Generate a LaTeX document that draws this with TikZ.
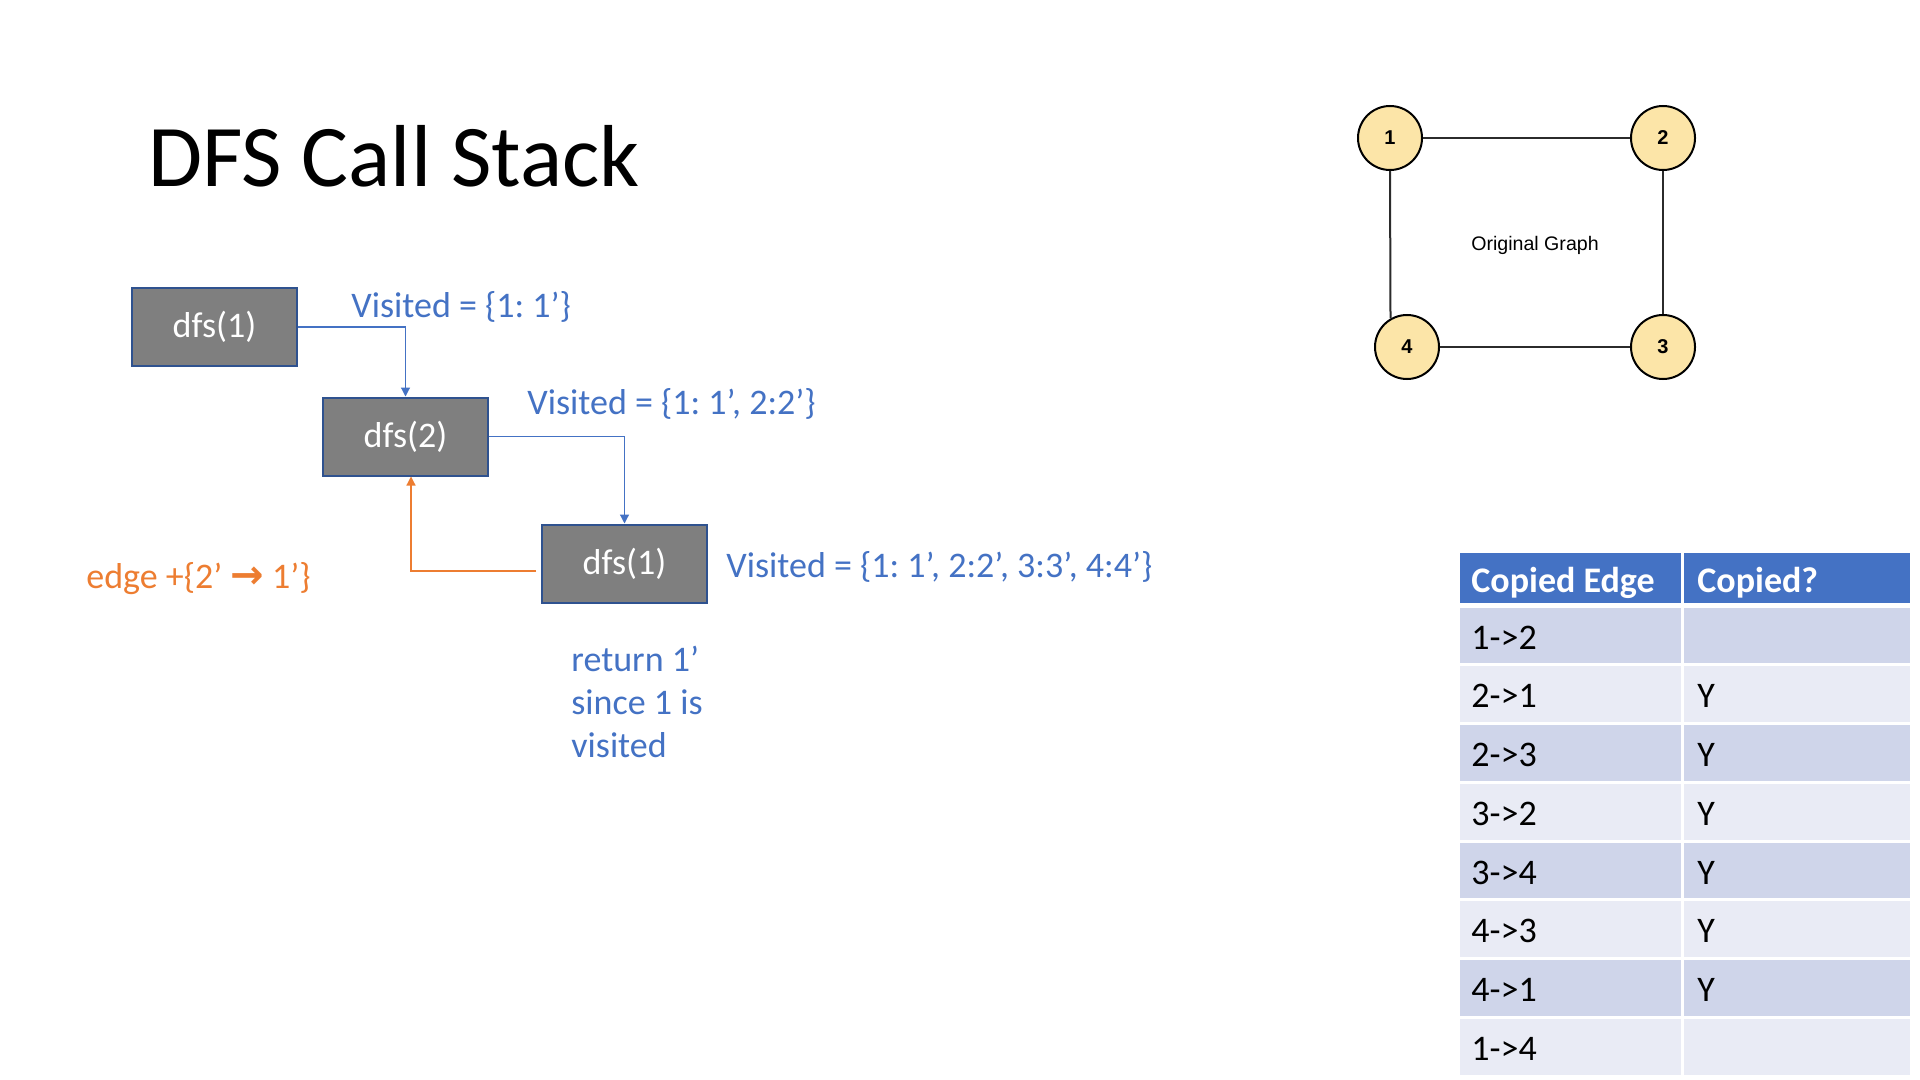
\documentclass[tikz,border=0pt]{standalone}
\usepackage{fontspec}
\setmainfont{Carlito}
\newfontfamily\graphfont{Liberation Sans}
\newfontfamily\symfont{DejaVu Sans}
\usetikzlibrary{arrows.meta,calc}
\frenchspacing
\definecolor{accblue}{HTML}{4472C4}
\definecolor{boxgray}{HTML}{7F7F7F}
\definecolor{boxline}{HTML}{2F528F}
\definecolor{accorange}{HTML}{ED7D31}
\definecolor{banddark}{HTML}{CFD5EA}
\definecolor{bandlight}{HTML}{E9EBF5}
\definecolor{vertfill}{HTML}{FCE5A8}
\definecolor{edgegray}{HTML}{2B2B2B}
\tikzset{
  callbox/.style={draw=boxline, line width=1pt, fill=boxgray, minimum width=82.5pt,
    minimum height=39pt, inner sep=0pt, text=white, font=\fontsize{18}{21.6}\selectfont},
  lbl/.style={anchor=base west, inner sep=0pt, font=\fontsize{18}{21.6}\selectfont},
  bluelbl/.style={lbl, text=accblue},
  headlbl/.style={lbl, text=white, font=\bfseries\fontsize{18}{21.6}\selectfont},
  celllbl/.style={lbl, text=black},
  callarrow/.style={draw=accblue, line width=0.6pt, -{Triangle[width=4.5pt,length=4.5pt]}},
  retarrow/.style={draw=accorange, line width=0.6pt, -{Triangle[width=4.5pt,length=4.5pt]}},
  vert/.style={circle, draw=black, line width=1pt, fill=vertfill, minimum size=32pt,
    inner sep=0pt, font=\graphfont\bfseries\fontsize{10}{12}\selectfont},
  gedge/.style={draw=edgegray, line width=1pt},
  headcell/.style={fill=accblue, draw=white, line width=1.5pt},
  darkcell/.style={fill=banddark, draw=white, line width=1.5pt},
  lightcell/.style={fill=bandlight, draw=white, line width=1.5pt}
}
\begin{document}
\begin{tikzpicture}[x=0.5pt, y=-0.5pt]
\fill[white] (0,0) rectangle (1920,1080);
\useasboundingbox (0,0) rectangle (1920,1080);

% title
\node[anchor=base west, inner sep=0pt, font=\fontsize{44}{52}\selectfont] (title) at (148,187) {DFS Call Stack};

% call stack boxes
\node[callbox] (b1) at (214.5,327) {dfs(1)};
\node[callbox] (b2) at (405.5,436.5) {dfs(2)};
\node[callbox] (b3) at (624.5,563.5) {dfs(1)};

\draw[callarrow] (b1.east) -| (b2.north);
\draw[callarrow] (b2.east) -| (b3.north);
\coordinate (rstart) at ($(b3.west)+(-5,7.5)$);
\coordinate (rend) at ($(b2.south)+(5.5,0)$);
\draw[retarrow] (rstart) -| (rend);

% labels
\node[bluelbl] (v1) at (351,318) {Visited = \{1: 1’\}};
\node[bluelbl] (v2) at (527,414) {Visited = \{1: 1’, 2:2’\}};
\node[bluelbl] (v3) at (726,577) {Visited = \{1: 1’, 2:2’, 3:3’, 4:4’\}};
\node[lbl, text=accorange] (edgelbl) at (86,588) {edge +\{2’ {\symfont\bfseries\fontsize{20}{22}\selectfont →} 1’\}};
\node[bluelbl] (r1) at (571,671) {return 1’};
\node[bluelbl] (r2) at (571,714) {since 1 is};
\node[bluelbl] (r3) at (571,757) {visited};

% original graph
\node[vert] (n1) at (1390,138) {1};
\node[vert] (n2) at (1663,138) {2};
\node[vert] (n3) at (1663,347) {3};
\node[vert] (n4) at (1407,347) {4};
\draw[gedge] (n1) -- (n2);
\draw[gedge] (n2) -- (n3);
\draw[gedge] (n4) -- (n3);
\draw[gedge] (n1.south) -- (n4.120);
\node[font=\graphfont\fontsize{9.8}{12}\selectfont] (gtitle) at (1535,245) {Original Graph};

% table
\path[headcell] (1458,551) rectangle (1682,604);
\path[headcell] (1682,551) rectangle (1911,604);
\node[headlbl] (h1) at (1471,592) {Copied Edge};
\node[headlbl] (h2) at (1697,592) {Copied?};
\foreach \i/\e/\c in {0/1->2/{},1/2->1/Y,2/2->3/Y,3/3->2/Y,4/3->4/Y,5/4->3/Y,6/4->1/Y,7/1->4/{}}{
  \pgfmathsetmacro\rtop{606+\i*58.75}
  \pgfmathsetmacro\rbot{606+(\i+1)*58.75}
  \pgfmathsetmacro\rbase{649+\i*58.75}
  \ifodd\i
    \path[lightcell] (1458,\rtop) rectangle (1682,\rbot);
    \path[lightcell] (1682,\rtop) rectangle (1911,\rbot);
  \else
    \path[darkcell] (1458,\rtop) rectangle (1682,\rbot);
    \path[darkcell] (1682,\rtop) rectangle (1911,\rbot);
  \fi
  \node[celllbl] (ea\i) at (1471,\rbase) {\e};
  \node[celllbl] (eb\i) at (1697,\rbase) {\c};
}
\end{tikzpicture}
\end{document}
